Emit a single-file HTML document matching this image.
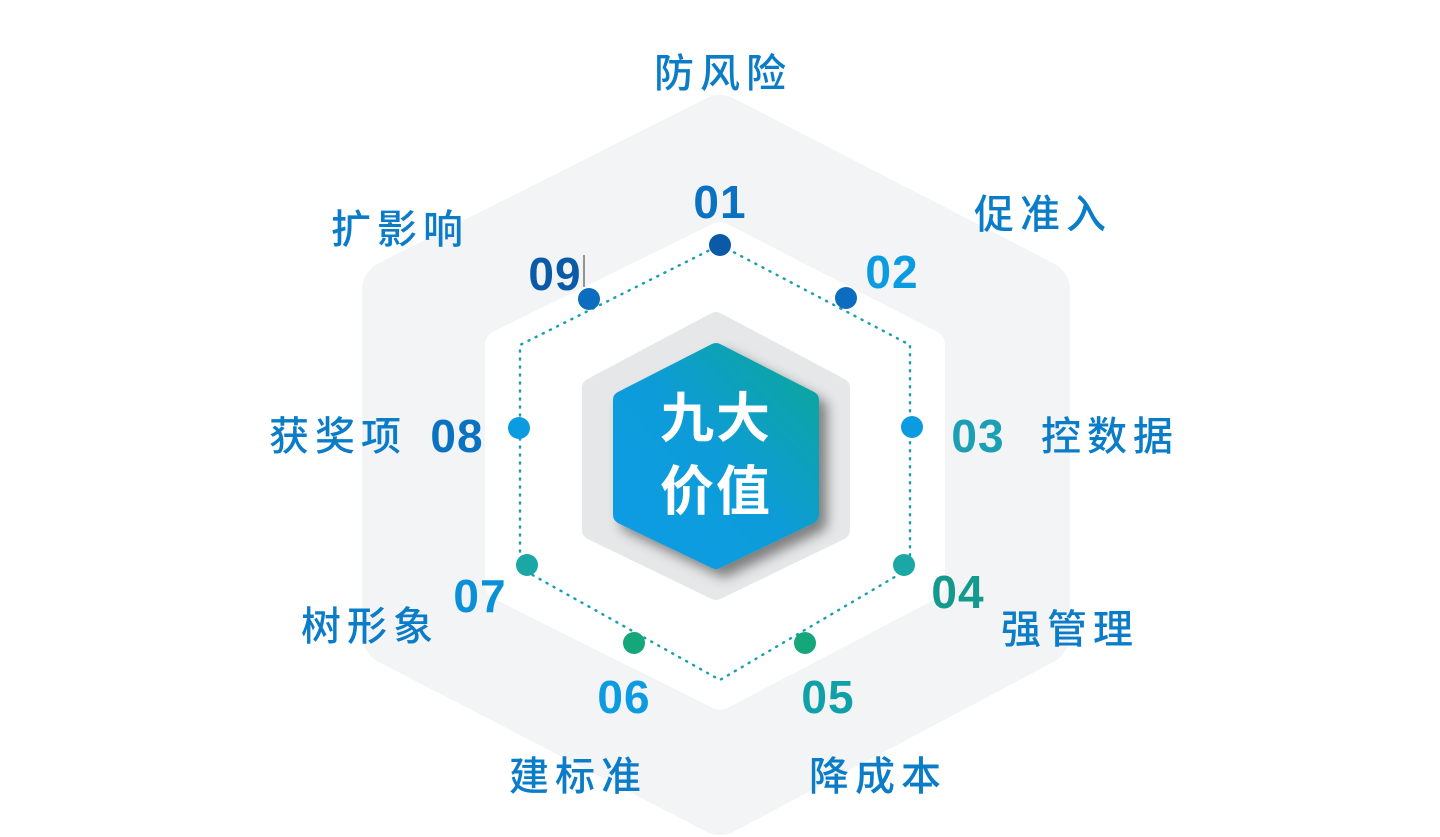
<!DOCTYPE html>
<html><head><meta charset="utf-8"><style>
html,body{margin:0;padding:0;background:#fff;}
svg{display:block;}
.lb{font-family:"Liberation Sans","Noto Sans CJK SC",sans-serif;font-size:40px;fill:#0a7cc8;font-weight:500;letter-spacing:6px;}
.nm{font-family:"Liberation Sans Narrow","Liberation Sans",sans-serif;font-weight:bold;font-size:46px;letter-spacing:1px;}
.ct{font-family:"Liberation Sans","Noto Sans CJK SC",sans-serif;font-size:54px;font-weight:bold;fill:#fff;letter-spacing:2px;}
</style></head><body>
<svg width="1440" height="837" viewBox="0 0 1440 837">
<defs>
<linearGradient id="g" x1="0" y1="1" x2="1" y2="0">
<stop offset="0" stop-color="#0a9ce6"/><stop offset="0.5" stop-color="#0b9cd8"/><stop offset="1" stop-color="#12a69a"/>
</linearGradient>
<filter id="sh" x="-20%" y="-20%" width="150%" height="150%"><feDropShadow dx="8" dy="8" stdDeviation="6" flood-color="#000" flood-opacity="0.45"/></filter>
</defs>
<polygon points="720,125 1040,290 1040,635 720,805 392,635 392,290" fill="#f3f4f5" stroke="#f3f4f5" stroke-width="60" stroke-linejoin="round"/>
<polygon points="720,237 930,345 930,585 720,695 500,585 500,345" fill="#fff" stroke="#fff" stroke-width="30" stroke-linejoin="round"/>
<polygon points="716,322 840,388 840,530 716,590 592,530 592,388" fill="#e6e7e8" stroke="#e6e7e8" stroke-width="20" stroke-linejoin="round"/>
<polygon points="716,352 810,400 810,515 716,560 622,515 622,400" fill="url(#g)" stroke="url(#g)" stroke-width="18" stroke-linejoin="round" filter="url(#sh)"/>
<text class="ct" x="716" y="437" text-anchor="middle">九大</text>
<text class="ct" x="716" y="510" text-anchor="middle">价值</text>
<polygon points="720,245 910,345 910,568 720,680 520,568 520,345" fill="none" stroke="#1a9fb0" stroke-width="2.5" stroke-dasharray="1 7" stroke-linecap="round"/>
<circle cx="720" cy="245" r="11" fill="#0a5aa8"/>
<circle cx="846" cy="298" r="11" fill="#0b6cc0"/>
<circle cx="912" cy="427" r="11" fill="#0a9be0"/>
<circle cx="904" cy="565" r="11" fill="#1aa7a5"/>
<circle cx="805" cy="643" r="11" fill="#15a67a"/>
<circle cx="634" cy="643" r="11" fill="#15a67a"/>
<circle cx="527" cy="565" r="11" fill="#1aa7a5"/>
<circle cx="519" cy="428" r="11" fill="#0a9be0"/>
<circle cx="589" cy="299" r="11" fill="#0b6cc0"/>
<text class="nm" x="720" y="218" text-anchor="middle" fill="#0a72c0">01</text>
<text class="nm" x="892" y="288" text-anchor="middle" fill="#0a9be0">02</text>
<text class="nm" x="978" y="452" text-anchor="middle" fill="#1a9fb4">03</text>
<text class="nm" x="958" y="608" text-anchor="middle" fill="#149a8c">04</text>
<text class="nm" x="828" y="713" text-anchor="middle" fill="#10a0a8">05</text>
<text class="nm" x="624" y="713" text-anchor="middle" fill="#0a9be0">06</text>
<text class="nm" x="480" y="612" text-anchor="middle" fill="#0a90d8">07</text>
<text class="nm" x="457" y="452" text-anchor="middle" fill="#0a72c0">08</text>
<text class="nm" x="555" y="290" text-anchor="middle" fill="#0a5aa8">09</text>
<line x1="584" y1="255" x2="584" y2="287" stroke="#333" stroke-width="1"/>
<text class="lb" x="723" y="87" text-anchor="middle">防风险</text>
<text class="lb" x="1043" y="228" text-anchor="middle">促准入</text>
<text class="lb" x="400" y="243" text-anchor="middle">扩影响</text>
<text class="lb" x="1110" y="450" text-anchor="middle">控数据</text>
<text class="lb" x="338" y="450" text-anchor="middle">获奖项</text>
<text class="lb" x="1070" y="643" text-anchor="middle">强管理</text>
<text class="lb" x="370" y="640" text-anchor="middle">树形象</text>
<text class="lb" x="578" y="790" text-anchor="middle">建标准</text>
<text class="lb" x="878" y="790" text-anchor="middle">降成本</text>
</svg>
</body></html>
